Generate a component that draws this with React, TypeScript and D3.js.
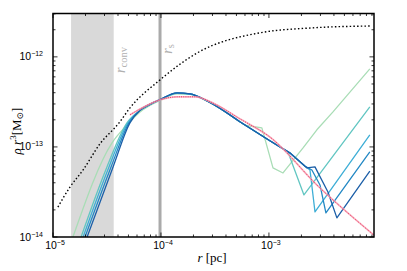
import React from 'react';
import * as d3 from 'd3';

// radius [pc] and rho*r^3 [Msun]
const rGreen = [1.53e-5, 3.52e-5, 4.84e-5, 6.4e-5, 7.9e-5, 9.8e-5, 1.41e-4, 1.86e-4, 2.67e-4, 5.38e-4, 6.0e-4, 8.6e-4, 1.09e-3, 1.35e-3, 2.07e-3, 2.78e-3, 3.92e-3, 8.6e-3];
const vGreen = [1e-14, 1.11e-13, 1.75e-13, 2.45e-13, 2.88e-13, 3.28e-13, 3.88e-13, 3.84e-13, 3.22e-13, 1.9e-13, 1.74e-13, 1.63e-13, 5.85e-14, 5.14e-14, 9.75e-14, 1.55e-13, 2.45e-13, 7.36e-13];

const rTeal = [1.82e-5, 3.16e-5, 4.84e-5, 6.4e-5, 7.9e-5, 9.8e-5, 1.41e-4, 1.86e-4, 2.67e-4, 5.38e-4, 1.02e-3, 1.5e-3, 2.11e-3, 8.6e-3];
const vTeal = [1e-14, 6e-14, 1.85e-13, 2.55e-13, 2.95e-13, 3.32e-13, 3.94e-13, 3.86e-13, 3.24e-13, 1.9e-13, 1.17e-13, 8.8e-14, 2.93e-14, 2.78e-13];

const rSky = [1.9e-5, 3.3e-5, 4.95e-5, 6.4e-5, 7.9e-5, 9.8e-5, 1.41e-4, 1.86e-4, 2.67e-4, 5.38e-4, 1.02e-3, 1.56e-3, 2.15e-3, 2.4e-3, 2.67e-3, 8.6e-3];
const vSky = [1e-14, 6e-14, 1.85e-13, 2.55e-13, 2.96e-13, 3.33e-13, 3.96e-13, 3.87e-13, 3.25e-13, 1.9e-13, 1.17e-13, 8.6e-14, 6.15e-14, 5.55e-14, 1.9e-14, 1.36e-13];

const rBlue = [1.98e-5, 3.45e-5, 5.06e-5, 6.4e-5, 7.9e-5, 9.8e-5, 1.41e-4, 1.86e-4, 2.67e-4, 5.38e-4, 1.02e-3, 1.56e-3, 2.15e-3, 2.5e-3, 2.97e-3, 3.37e-3, 8.6e-3];
const vBlue = [1e-14, 6e-14, 1.85e-13, 2.55e-13, 2.97e-13, 3.35e-13, 3.98e-13, 3.88e-13, 3.25e-13, 1.9e-13, 1.17e-13, 8.6e-14, 6.15e-14, 5.55e-14, 3.78e-14, 1.85e-14, 8.8e-14];

const rNavy = [2.07e-5, 3.6e-5, 5.16e-5, 6.4e-5, 7.9e-5, 9.8e-5, 1.41e-4, 1.86e-4, 2.67e-4, 5.38e-4, 1.02e-3, 1.56e-3, 2.25e-3, 2.67e-3, 3.52e-3, 4.26e-3, 8.6e-3];
const vNavy = [1e-14, 6e-14, 1.85e-13, 2.55e-13, 2.97e-13, 3.35e-13, 3.98e-13, 3.88e-13, 3.25e-13, 1.9e-13, 1.17e-13, 8.6e-14, 5.85e-14, 6.0e-14, 3.16e-14, 1.63e-14, 5.4e-14];

const rModel = [5.16e-5, 6.4e-5, 9.8e-5, 1.41e-4, 2.07e-4, 3.16e-4, 5.38e-4, 1.02e-3, 2.9e-3, 9.38e-3];
const vModel = [2.27e-13, 2.64e-13, 3.33e-13, 3.6e-13, 3.6e-13, 3.0e-13, 2.05e-13, 1.29e-13, 3.6e-14, 1.05e-14];

const rMass = [1.11e-5, 1.44e-5, 1.9e-5, 2.72e-5, 4.09e-5, 5.16e-5, 9.8e-5, 2.15e-4, 8.26e-4, 2.55e-3, 8.6e-3];
const vMass = [2.15e-14, 3.6e-14, 5.55e-14, 1.08e-13, 1.85e-13, 2.71e-13, 5.55e-13, 1.1e-12, 1.85e-12, 2.1e-12, 2.2e-12];

const rConv = [1.47e-5, 3.65e-5];
const rScale = 9.8e-5;
const rBreak = 5.38e-4; // past this radius the runs are drawn with straight segments

const xMajor = [1e-5, 1e-4, 1e-3];
const xMajorExp = ['5', '4', '3'];
const yMajor = [1e-14, 1e-13, 1e-12];
const yMajorExp = ['14', '13', '12'];

const runs = [
  { r: rGreen, v: vGreen, color: '#a9ddb6' },
  { r: rTeal, v: vTeal, color: '#62c6c2' },
  { r: rSky, v: vSky, color: '#3eaed6' },
  { r: rBlue, v: vBlue, color: '#2388c4' },
  { r: rNavy, v: vNavy, color: '#1c5fa8' },
];

const zip = (a: number[], b: number[]) => a.map((d, i) => [d, b[i]] as [number, number]);

export default function App() {
  const L = 53, R = 374, T = 13.5, B = 237;
  const x = d3.scaleLog().domain([1e-5, 9.4e-3]).range([L, R]);
  const y = d3.scaleLog().domain([1e-14, 3.03e-12]).range([B, T]);

  const smooth = d3.line<[number, number]>().x(d => x(d[0])).y(d => y(d[1])).curve(d3.curveMonotoneX);
  const straight = d3.line<[number, number]>().x(d => x(d[0])).y(d => y(d[1]));

  const runPath = (r: number[], v: number[]) => {
    const pts = zip(r, v);
    const inner = pts.filter(d => d[0] <= rBreak);
    const outer = pts.filter(d => d[0] >= rBreak);
    return (smooth(inner) || '') + (straight(outer) || '');
  };

  // minor ticks 2..9 in each decade
  const xMinor: number[] = [];
  for (let e = -5; e <= -3; e++) for (let k = 2; k <= 9; k++) {
    const v = k * Math.pow(10, e);
    if (v < 9.4e-3) xMinor.push(v);
  }
  const yMinor: number[] = [];
  for (let e = -14; e <= -12; e++) for (let k = 2; k <= 9; k++) {
    const v = k * Math.pow(10, e);
    if (v < 3.03e-12) yMinor.push(v);
  }

  const font = 'Liberation Sans, Arial, sans-serif';
  const serif = 'Liberation Serif, DejaVu Serif, serif';

  return (
    <svg width={407} height={271} style={{ position: 'absolute', left: 0, top: 0, background: '#fff' }}>
      <defs>
        <clipPath id="plot">
          <rect x={L} y={T} width={R - L} height={B - T} />
        </clipPath>
      </defs>

      <g clipPath="url(#plot)">
        <rect x={x(rConv[0])} y={T} width={x(rConv[1]) - x(rConv[0])} height={B - T} fill="#d9d9d9" />
        <line x1={x(rScale)} x2={x(rScale)} y1={T} y2={B} stroke="#aaaaaa" strokeWidth={3} />

        <path d={smooth(zip(rMass, vMass)) || ''} fill="none" stroke="#000" strokeWidth={1.4} strokeDasharray="1.5,2.2" />

        {runs.map((s, i) => (
          <path key={i} d={runPath(s.r, s.v)} fill="none" stroke={s.color} strokeWidth={1.3} strokeLinejoin="round" />
        ))}

        <path d={smooth(zip(rModel, vModel)) || ''} fill="none" stroke="#f7a6b8" strokeWidth={1.8} opacity={0.8} />
        <path d={smooth(zip(rModel, vModel)) || ''} fill="none" stroke="#e8305a" strokeWidth={1} strokeDasharray="1,1.2" />
      </g>

      {/* labels for characteristic radii */}
      <text transform={`translate(${x(rConv[1]) + 11},${60}) rotate(-90)`} textAnchor="middle" fill="#b0b0b0" fontFamily={serif} fontSize={14}>
        <tspan fontStyle="italic">r</tspan>
        <tspan fontSize={10.5} dy={2}>conv</tspan>
      </text>
      <text transform={`translate(${x(rScale) + 12},${49}) rotate(-90)`} textAnchor="middle" fill="#b0b0b0" fontFamily={serif} fontSize={14}>
        <tspan fontStyle="italic">r</tspan>
        <tspan fontSize={10.5} dy={2}>s</tspan>
      </text>

      {/* ticks */}
      <g stroke="#000" strokeWidth={0.8}>
        {xMajor.map((v, i) => (
          <g key={'xm' + i}>
            <line x1={x(v)} x2={x(v)} y1={B} y2={B - 4.5} />
            <line x1={x(v)} x2={x(v)} y1={T} y2={T + 4.5} />
          </g>
        ))}
        {xMinor.map((v, i) => (
          <g key={'xn' + i}>
            <line x1={x(v)} x2={x(v)} y1={B} y2={B - 2.5} />
            <line x1={x(v)} x2={x(v)} y1={T} y2={T + 2.5} />
          </g>
        ))}
        {yMajor.map((v, i) => (
          <g key={'ym' + i}>
            <line x1={L} x2={L + 4.5} y1={y(v)} y2={y(v)} />
            <line x1={R} x2={R - 4.5} y1={y(v)} y2={y(v)} />
          </g>
        ))}
        {yMinor.map((v, i) => (
          <g key={'yn' + i}>
            <line x1={L} x2={L + 2.5} y1={y(v)} y2={y(v)} />
            <line x1={R} x2={R - 2.5} y1={y(v)} y2={y(v)} />
          </g>
        ))}
      </g>

      <rect x={L} y={T} width={R - L} height={B - T} fill="none" stroke="#000" strokeWidth={1.5} />

      {/* tick labels */}
      {xMajor.map((v, i) => (
        <text key={'xl' + i} x={x(v) + 2} y={B + 11.5} textAnchor="middle" fontFamily={font} fontSize={10.5}>
          10<tspan fontSize={7} dy={-4}>{'\u2212' + xMajorExp[i]}</tspan>
        </text>
      ))}
      {yMajor.map((v, i) => (
        <text key={'yl' + i} x={L - 10} y={y(v) + 3.5} textAnchor="end" fontFamily={font} fontSize={10.5}>
          10<tspan fontSize={7} dy={-4}>{'\u2212' + yMajorExp[i]}</tspan>
        </text>
      ))}

      {/* axis titles */}
      <text x={212} y={262} textAnchor="middle" fontFamily={serif} fontSize={13}>
        <tspan fontStyle="italic">r</tspan> [pc]
      </text>
      <text transform="translate(21,131) rotate(-90)" textAnchor="middle" fontFamily={serif} fontSize={13}>
        <tspan fontStyle="italic">ρ r</tspan>
        <tspan fontSize={9} dy={-5}>3</tspan>
        <tspan dy={5}>[M</tspan>
        <tspan fontSize={9} dy={2}>⊙</tspan>
        <tspan dy={-2}>]</tspan>
      </text>
    </svg>
  );
}
